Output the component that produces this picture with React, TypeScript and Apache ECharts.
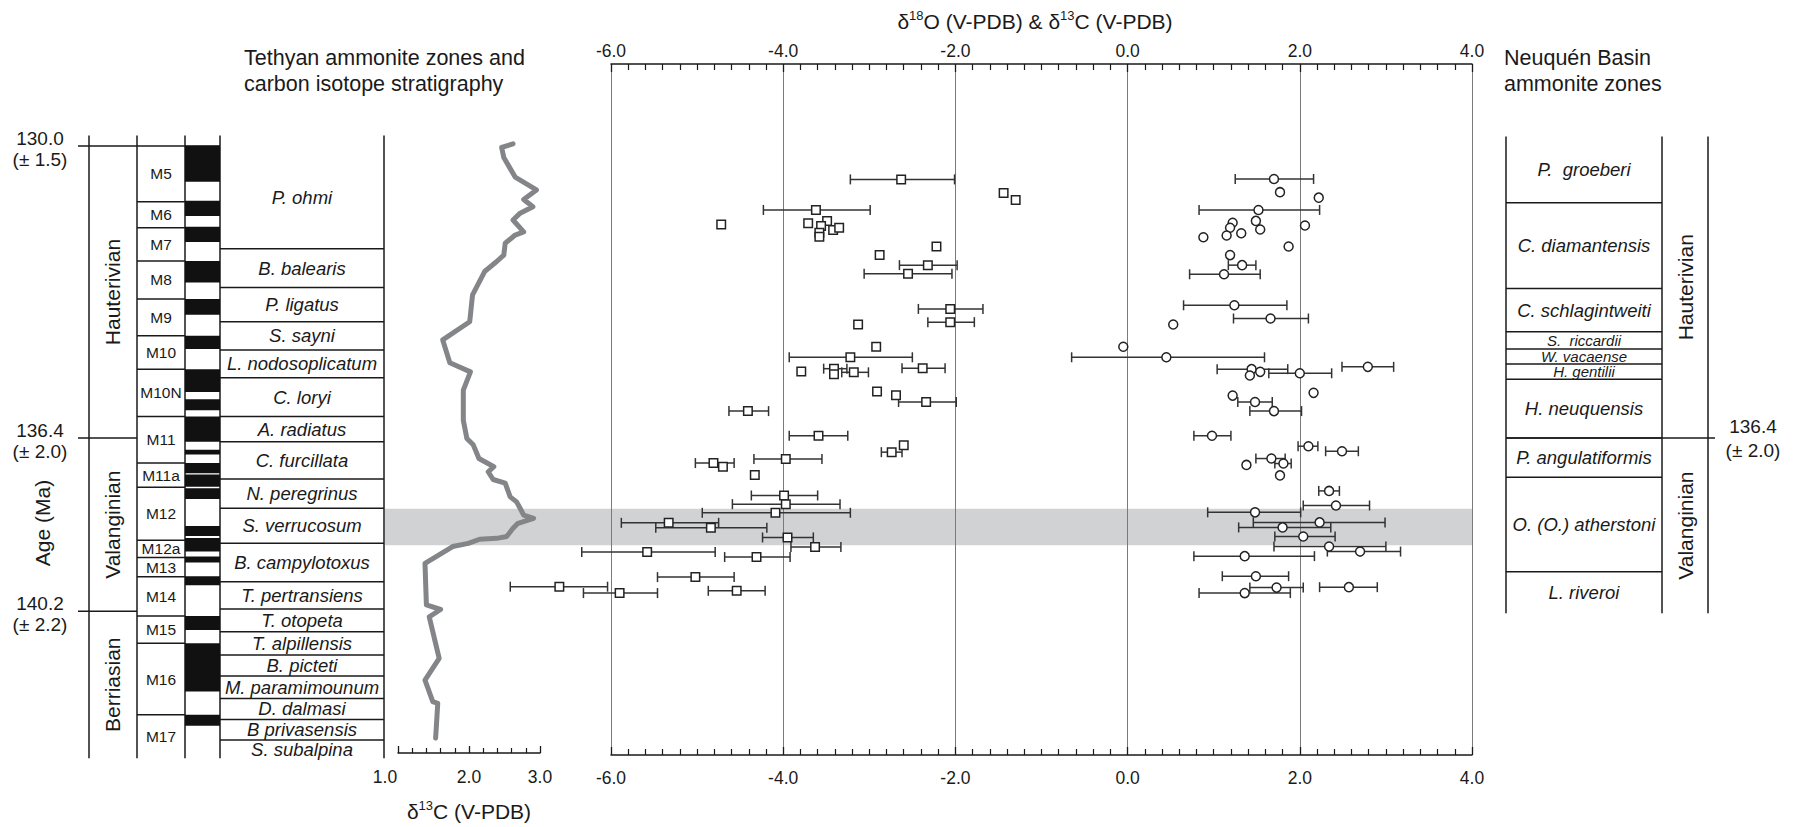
import React, { useEffect, useRef } from "react";
import * as echarts from "echarts";

const FONT = "'Liberation Sans', Arial, Helvetica, sans-serif";
const INK = "#1a1a1a";

// vertical scale: geological age (Ma), increasing downwards
const AGE_MIN = 128.2;
const AGE_MAX = 143.35;

// ---------- Tethyan (left) stratigraphy ----------
const leftColumnSpan = [129.77, 143.42];
const ageTicks = [130.0, 136.4, 140.2];
const ageTickErr = ["(± 1.5)", "(± 2.0)", "(± 2.2)"];
const tethyanStages: [string, number, number][] = [
  ["Hauterivian", 130.0, 136.4],
  ["Valanginian", 136.4, 140.2],
  ["Berriasian", 140.2, 143.42],
];
const chrons: [string, number, number][] = [
  ["M5", 130.0, 131.22], ["M6", 131.22, 131.79], ["M7", 131.79, 132.52], ["M8", 132.52, 133.35],
  ["M9", 133.35, 134.16], ["M10", 134.16, 134.89], ["M10N", 134.89, 135.93], ["M11", 135.93, 136.95],
  ["M11a", 136.95, 137.48], ["M12", 137.48, 138.64], ["M12a", 138.64, 139.02], ["M13", 139.02, 139.44],
  ["M14", 139.44, 140.30], ["M15", 140.30, 140.90], ["M16", 140.90, 142.47], ["M17", 142.47, 143.42],
];
const normalPolarity: [number, number][] = [
  [129.99, 130.78], [131.20, 131.53], [131.77, 132.10], [132.52, 132.99], [133.35, 133.70],
  [134.16, 134.45], [134.89, 135.39], [135.55, 135.79], [135.93, 136.48], [136.66, 136.76],
  [136.95, 137.17], [137.20, 137.47], [137.50, 137.74], [138.33, 138.55], [138.59, 138.89],
  [139.00, 139.13], [139.43, 139.63], [140.30, 140.61], [140.90, 141.96], [142.47, 142.71],
];
const tethyanZones: [string, number, number][] = [
  ["P. ohmi", 130.0, 132.25], ["B. balearis", 132.25, 133.10], ["P. ligatus", 133.10, 133.85],
  ["S. sayni", 133.85, 134.47], ["L. nodosoplicatum", 134.47, 135.08], ["C. loryi", 135.08, 135.93],
  ["A. radiatus", 135.93, 136.48], ["C. furcillata", 136.48, 137.30], ["N. peregrinus", 137.30, 137.94],
  ["S. verrucosum", 137.94, 138.71], ["B. campylotoxus", 138.71, 139.55], ["T. pertransiens", 139.55, 140.15],
  ["T. otopeta", 140.15, 140.65], ["T. alpillensis", 140.65, 141.16], ["B. picteti", 141.16, 141.62],
  ["M. paramimounum", 141.62, 142.11], ["D. dalmasi", 142.11, 142.57], ["B privasensis", 142.57, 143.02],
  ["S. subalpina", 143.02, 143.42],
];
const verrucosumBand = [137.95, 138.75];

// ---------- Tethyan carbon isotope curve ----------
const curveAge = [
  129.95, 130.03, 130.25, 130.68, 130.96, 131.17, 131.33, 131.47, 131.62, 131.88, 131.95, 132.13,
  132.39, 132.53, 132.75, 133.26, 133.85, 134.25, 134.75, 134.95, 135.35, 136.01, 136.41, 136.55,
  136.85, 137.03, 137.14, 137.31, 137.39, 137.69, 137.80, 137.94, 138.09, 138.16, 138.27, 138.38,
  138.56, 138.60, 138.62, 138.71, 138.78, 139.15, 140.06, 140.16, 140.32, 141.23, 141.71, 142.18,
  142.22, 142.98,
];
const curveD13C = [
  2.62, 2.46, 2.49, 2.65, 2.95, 2.77, 2.90, 2.72, 2.62, 2.77, 2.65, 2.51,
  2.49, 2.39, 2.22, 2.05, 2.01, 1.63, 1.73, 2.02, 1.92, 1.92, 1.97, 2.06,
  2.14, 2.35, 2.27, 2.34, 2.51, 2.58, 2.67, 2.72, 2.77, 2.91, 2.69, 2.62,
  2.53, 2.39, 2.15, 1.99, 1.77, 1.38, 1.40, 1.60, 1.44, 1.58, 1.38, 1.49,
  1.56, 1.53,
];

// ---------- Neuquén samples: [value, age, low, high] ----------
const oxygenPoints: (number | null)[][] = [
  [-2.63, 130.73, -3.22, -2.01], [-1.44, 131.03, null, null], [-1.30, 131.18, null, null],
  [-3.62, 131.40, -4.23, -2.99], [-4.72, 131.72, null, null], [-3.71, 131.69, null, null],
  [-3.49, 131.64, null, null], [-3.56, 131.75, null, null], [-3.42, 131.84, null, null],
  [-3.35, 131.79, null, null], [-3.58, 131.90, null, null], [-3.58, 131.99, null, null],
  [-2.22, 132.20, null, null], [-2.88, 132.39, null, null], [-2.32, 132.61, -2.65, -1.98],
  [-2.55, 132.80, -3.06, -2.04], [-2.06, 133.57, -2.43, -1.68], [-2.06, 133.86, -2.32, -1.78],
  [-3.13, 133.91, null, null], [-2.92, 134.40, null, null], [-3.22, 134.63, -3.93, -2.50],
  [-2.38, 134.87, -2.62, -2.12], [-3.41, 134.88, -3.53, -3.26], [-3.41, 135.00, null, null],
  [-3.18, 134.96, -3.32, -3.01], [-3.79, 134.94, null, null], [-2.91, 135.38, null, null],
  [-2.69, 135.46, null, null], [-2.34, 135.61, -2.66, -1.99], [-4.41, 135.81, -4.63, -4.17],
  [-3.59, 136.35, -3.93, -3.25], [-2.60, 136.56, null, null], [-2.74, 136.71, -2.86, -2.62],
  [-4.81, 136.95, -5.02, -4.57], [-4.70, 137.03, null, null], [-3.97, 136.86, -4.34, -3.55],
  [-4.33, 137.21, null, null], [-3.99, 137.66, -4.37, -3.60], [-3.97, 137.85, -4.59, -3.34],
  [-4.09, 138.04, -4.94, -3.22], [-5.33, 138.26, -5.88, -4.75], [-4.84, 138.37, -5.48, -4.19],
  [-3.95, 138.58, -4.24, -3.65], [-3.63, 138.79, -3.91, -3.33], [-5.58, 138.90, -6.34, -4.79],
  [-4.31, 139.01, -4.68, -3.92], [-5.02, 139.45, -5.46, -4.57], [-4.54, 139.75, -4.87, -4.21],
  [-5.90, 139.80, -6.32, -5.46], [-6.60, 139.66, -7.17, -6.04],
];
const carbonPoints: (number | null)[][] = [
  [1.70, 130.72, 1.25, 2.16], [1.77, 131.01, null, null], [2.22, 131.13, null, null],
  [1.52, 131.40, 0.83, 2.23], [1.22, 131.68, null, null], [1.49, 131.64, null, null],
  [2.06, 131.74, null, null], [1.19, 131.79, null, null], [1.54, 131.83, null, null],
  [1.32, 131.91, null, null], [1.15, 131.96, null, null], [0.88, 132.00, null, null],
  [1.87, 132.20, null, null], [1.19, 132.39, null, null], [1.33, 132.61, 1.17, 1.49],
  [1.12, 132.81, 0.72, 1.54], [1.24, 133.49, 0.65, 1.85], [1.66, 133.78, 1.23, 2.10],
  [0.53, 133.91, null, null], [-0.05, 134.40, null, null], [0.45, 134.63, -0.65, 1.59],
  [2.79, 134.84, 2.49, 3.09], [1.44, 134.89, 1.04, 1.86], [1.54, 134.95, null, null],
  [1.42, 135.03, null, null], [2.00, 134.98, 1.64, 2.37], [2.16, 135.41, null, null],
  [1.22, 135.47, null, null], [1.48, 135.61, 1.28, 1.68], [1.70, 135.81, 1.42, 2.02],
  [0.98, 136.35, 0.77, 1.20], [2.10, 136.58, 1.98, 2.21], [2.49, 136.69, 2.30, 2.68],
  [1.67, 136.85, 1.49, 1.83], [1.81, 136.96, 1.71, 1.90], [1.38, 136.99, null, null],
  [1.77, 137.22, null, null], [2.34, 137.56, 2.22, 2.46], [2.42, 137.88, 2.04, 2.81],
  [1.48, 138.03, 0.93, 2.01], [2.23, 138.25, 1.46, 2.99], [1.80, 138.36, 1.29, 2.36],
  [2.04, 138.56, 1.71, 2.41], [2.34, 138.78, 1.70, 3.00], [2.70, 138.89, 2.32, 3.17],
  [1.36, 138.99, 0.77, 2.17], [1.49, 139.43, 1.10, 1.87], [1.73, 139.68, 1.42, 2.04],
  [2.57, 139.67, 2.23, 2.90], [1.36, 139.80, 0.83, 1.89],
];

// ---------- Neuquén (right) stratigraphy ----------
const rightColumnSpan = [129.79, 140.24];
const neuquenZones: [string, number, number][] = [
  ["P.  groeberi", 129.79, 131.24], ["C. diamantensis", 131.24, 133.12], ["C. schlagintweiti", 133.12, 134.07],
  ["S.  riccardii", 134.07, 134.45], ["W. vacaense", 134.45, 134.78], ["H. gentilii", 134.78, 135.11],
  ["H. neuquensis", 135.11, 136.4], ["P. angulatiformis", 136.4, 137.26], ["O. (O.) atherstoni", 137.26, 139.33],
  ["L. riveroi", 139.33, 140.24],
];
const neuquenStages: [string, number, number][] = [
  ["Hauterivian", 129.79, 136.4],
  ["Valanginian", 136.4, 140.24],
];
const rightAgeTicks = [136.4];
const rightAgeErr = ["(± 2.0)"];

// ---------- drawing helpers ----------
const seg = (x1: number, y1: number, x2: number, y2: number, w = 1.5, c = INK) => ({
  type: "line",
  shape: { x1, y1, x2, y2 },
  style: { stroke: c, lineWidth: w },
});
const txt = (text: string, x: number, y: number, size: number, italic = false, rotation = 0, align = "center") => ({
  type: "text",
  x,
  y,
  rotation,
  style: {
    text,
    fill: INK,
    fontSize: size,
    fontFamily: FONT,
    fontStyle: italic ? "italic" : "normal",
    align,
    verticalAlign: "middle",
    textAlign: align,
    textVerticalAlign: "middle",
  },
});

function buildOption(): any {
  const yAt = (api: any, age: number) => api.coord([0, age])[1];

  const leftAxes = { xAxisIndex: 0, yAxisIndex: 0 };
  const rightAxes = { xAxisIndex: 4, yAxisIndex: 3 };
  const mainAxes = { xAxisIndex: 2, yAxisIndex: 2 };

  const errBarSeries = (pts: (number | null)[][]) => ({
    type: "custom",
    ...mainAxes,
    clip: false,
    silent: true,
    z: 3,
    data: pts.filter((p) => p[2] !== null),
    renderItem: (_p: any, api: any) => {
      const age = api.value(1);
      const y = api.coord([api.value(0), age])[1];
      const xl = api.coord([api.value(2), age])[0];
      const xh = api.coord([api.value(3), age])[0];
      const c = "#333333";
      return {
        type: "group",
        children: [seg(xl, y, xh, y, 1.5, c), seg(xl, y - 5, xl, y + 5, 1.5, c), seg(xh, y - 5, xh, y + 5, 1.5, c)],
      };
    },
  });

  const tickLabel = { color: INK, fontSize: 17.5, fontFamily: FONT };
  const supRich = {
    n: { fontSize: 21, fontFamily: FONT, color: INK, lineHeight: 24 },
    s: { fontSize: 13, fontFamily: FONT, color: INK, verticalAlign: "top", lineHeight: 14 },
  };

  return {
    animation: false,
    backgroundColor: "#ffffff",
    textStyle: { fontFamily: FONT },
    grid: [
      { left: 0, top: 64, width: 400, height: 691 },
      { left: 398, top: 64, width: 142, height: 691 },
      { left: 611, top: 64, width: 861, height: 691 },
      { left: 1490, top: 64, width: 303, height: 691 },
    ],
    xAxis: [
      { type: "value", gridIndex: 0, min: 0, max: 400, show: false },
      {
        type: "value",
        gridIndex: 1,
        min: 1,
        max: 3,
        interval: 1,
        position: "bottom",
        offset: -2,
        axisLine: { lineStyle: { color: INK, width: 1.5 } },
        axisTick: { inside: true, length: 7, lineStyle: { color: INK, width: 1.3 } },
        minorTick: { show: true, splitNumber: 5, length: 5, lineStyle: { color: INK, width: 1.2 } },
        splitLine: { show: false },
        axisLabel: {
          ...tickLabel,
          margin: 15,
          formatter: (v: number) => (v === 1 ? "{first|1.0}" : v.toFixed(1)),
          rich: { first: { fontSize: 17.5, fontFamily: FONT, color: INK, padding: [0, 26, 0, 0] } },
        },
      },
      {
        type: "value",
        gridIndex: 2,
        min: -6,
        max: 4,
        interval: 2,
        position: "top",
        axisLine: { lineStyle: { color: INK, width: 1.5 } },
        axisTick: { inside: true, length: 8, lineStyle: { color: INK, width: 1.3 } },
        minorTick: { show: true, splitNumber: 10, length: 6, lineStyle: { color: INK, width: 1.2 } },
        splitLine: { show: true, lineStyle: { color: "#7a7a7a", width: 1 } },
        axisLabel: { ...tickLabel, margin: 4, formatter: (v: number) => v.toFixed(1) },
      },
      {
        type: "value",
        gridIndex: 2,
        min: -6,
        max: 4,
        interval: 2,
        position: "bottom",
        axisLine: { lineStyle: { color: INK, width: 1.5 } },
        axisTick: { inside: true, length: 8, lineStyle: { color: INK, width: 1.3 } },
        minorTick: { show: true, splitNumber: 10, length: 6, lineStyle: { color: INK, width: 1.2 } },
        splitLine: { show: false },
        axisLabel: { ...tickLabel, margin: 14, formatter: (v: number) => v.toFixed(1) },
      },
      { type: "value", gridIndex: 3, min: 0, max: 303, show: false },
    ],
    yAxis: [0, 1, 2, 3].map((i) => ({
      type: "value",
      gridIndex: i,
      min: AGE_MIN,
      max: AGE_MAX,
      inverse: true,
      show: false,
    })),
    graphic: [
      {
        type: "text",
        x: 1035,
        y: 21,
        style: {
          text: "{n|δ}{s|18}{n|O (V-PDB) & δ}{s|13}{n|C (V-PDB)}",
          align: "center",
          verticalAlign: "middle",
          textAlign: "center",
          textVerticalAlign: "middle",
          fill: INK,
          rich: supRich,
        },
      },
      {
        type: "text",
        x: 469,
        y: 811,
        style: {
          text: "{n|δ}{s|13}{n|C (V-PDB)}",
          align: "center",
          verticalAlign: "middle",
          textAlign: "center",
          textVerticalAlign: "middle",
          fill: INK,
          rich: supRich,
        },
      },
      txt("Tethyan ammonite zones and", 244, 58, 21.5, false, 0, "left"),
      txt("carbon isotope stratigraphy", 244, 84, 21.5, false, 0, "left"),
      txt("Neuquén Basin", 1504, 58, 21.5, false, 0, "left"),
      txt("ammonite zones", 1504, 84, 21.5, false, 0, "left"),
      txt("Age (Ma)", 42, 523, 21, false, Math.PI / 2),
    ],
    series: [
      // grey band marking the S. verrucosum zone
      {
        type: "custom",
        ...mainAxes,
        clip: false,
        silent: true,
        z: -1,
        data: [verrucosumBand],
        renderItem: (_p: any, api: any) => {
          const y0 = yAt(api, api.value(0));
          const y1 = yAt(api, api.value(1));
          const xr = api.coord([4, api.value(0)])[0];
          return { type: "rect", shape: { x: 385, y: y0, width: xr - 385, height: y1 - y0 }, style: { fill: "#d1d2d4" } };
        },
      },
      // left column frame
      {
        type: "custom",
        ...leftAxes,
        clip: false,
        silent: true,
        data: [leftColumnSpan],
        renderItem: (_p: any, api: any) => {
          const y0 = yAt(api, api.value(0));
          const y1 = yAt(api, api.value(1));
          return { type: "group", children: [89, 137, 185, 220, 384].map((x) => seg(x, y0, x, y1)) };
        },
      },
      // age ticks (left)
      {
        type: "custom",
        ...leftAxes,
        clip: false,
        silent: true,
        data: ageTicks.map((a) => [a]),
        renderItem: (p: any, api: any) => {
          const a = api.value(0);
          const y = yAt(api, a);
          return {
            type: "group",
            children: [
              seg(78, y, p.dataIndex === 0 ? 220 : 137, y),
              txt(a.toFixed(1), 40, y - 8, 19),
              txt(ageTickErr[p.dataIndex], 40, y + 13, 19),
            ],
          };
        },
      },
      // stages (left)
      {
        type: "custom",
        ...leftAxes,
        clip: false,
        silent: true,
        data: tethyanStages.map((s) => [s[1], s[2]]),
        renderItem: (p: any, api: any) => {
          const y0 = yAt(api, api.value(0));
          const y1 = yAt(api, api.value(1));
          return txt(tethyanStages[p.dataIndex][0], 112, (y0 + y1) / 2, 21, false, Math.PI / 2);
        },
      },
      // magnetic polarity (normal = black)
      {
        type: "custom",
        ...leftAxes,
        clip: false,
        silent: true,
        data: normalPolarity,
        renderItem: (_p: any, api: any) => {
          const y0 = yAt(api, api.value(0));
          const y1 = yAt(api, api.value(1));
          return { type: "rect", shape: { x: 185, y: y0, width: 35, height: y1 - y0 }, style: { fill: "#111111" } };
        },
      },
      // chrons
      {
        type: "custom",
        ...leftAxes,
        clip: false,
        silent: true,
        data: chrons.map((c) => [c[1], c[2]]),
        renderItem: (p: any, api: any) => {
          const y0 = yAt(api, api.value(0));
          const y1 = yAt(api, api.value(1));
          const children: any[] = [txt(chrons[p.dataIndex][0], 161, (y0 + y1) / 2, 15.5)];
          if (p.dataIndex > 0) children.push(seg(137, y0, 185, y0));
          return { type: "group", children };
        },
      },
      // Tethyan ammonite zones
      {
        type: "custom",
        ...leftAxes,
        clip: false,
        silent: true,
        data: tethyanZones.map((z) => [z[1], z[2]]),
        renderItem: (p: any, api: any) => {
          const y0 = yAt(api, api.value(0));
          const y1 = yAt(api, api.value(1));
          const children: any[] = [txt(tethyanZones[p.dataIndex][0], 302, (y0 + y1) / 2, 18.5, true)];
          if (p.dataIndex > 0) children.push(seg(220, y0, 384, y0));
          return { type: "group", children };
        },
      },
      // carbon isotope curve
      {
        type: "line",
        xAxisIndex: 1,
        yAxisIndex: 1,
        z: 4,
        silent: true,
        showSymbol: false,
        data: curveD13C.map((v, i) => [v, curveAge[i]]),
        lineStyle: { color: "#848588", width: 5, join: "round", cap: "round" },
      },
      // error bars + samples
      errBarSeries(oxygenPoints),
      errBarSeries(carbonPoints),
      {
        type: "scatter",
        ...mainAxes,
        clip: false,
        silent: true,
        z: 5,
        symbol: "rect",
        symbolSize: 8.5,
        itemStyle: { color: "#ffffff", borderColor: "#222222", borderWidth: 1.5, opacity: 1 },
        data: oxygenPoints.map((p) => [p[0], p[1]]),
      },
      {
        type: "scatter",
        ...mainAxes,
        clip: false,
        silent: true,
        z: 5,
        symbol: "circle",
        symbolSize: 9,
        itemStyle: { color: "#ffffff", borderColor: "#222222", borderWidth: 1.5, opacity: 1 },
        data: carbonPoints.map((p) => [p[0], p[1]]),
      },
      // right column frame
      {
        type: "custom",
        ...rightAxes,
        clip: false,
        silent: true,
        data: [rightColumnSpan],
        renderItem: (_p: any, api: any) => {
          const y0 = yAt(api, api.value(0));
          const y1 = yAt(api, api.value(1));
          return { type: "group", children: [1506, 1662, 1708].map((x) => seg(x, y0, x, y1)) };
        },
      },
      // Neuquén zones
      {
        type: "custom",
        ...rightAxes,
        clip: false,
        silent: true,
        data: neuquenZones.map((z) => [z[1], z[2]]),
        renderItem: (p: any, api: any) => {
          const y0 = yAt(api, api.value(0));
          const y1 = yAt(api, api.value(1));
          const size = y1 - y0 < 22 ? 15 : 18.5;
          const children: any[] = [txt(neuquenZones[p.dataIndex][0], 1584, (y0 + y1) / 2, size, true)];
          if (p.dataIndex > 0) children.push(seg(1506, y0, 1662, y0));
          return { type: "group", children };
        },
      },
      // Neuquén stages
      {
        type: "custom",
        ...rightAxes,
        clip: false,
        silent: true,
        data: neuquenStages.map((s) => [s[1], s[2]]),
        renderItem: (p: any, api: any) => {
          const y0 = yAt(api, api.value(0));
          const y1 = yAt(api, api.value(1));
          return txt(neuquenStages[p.dataIndex][0], 1685, (y0 + y1) / 2, 21, false, Math.PI / 2);
        },
      },
      // right age tick
      {
        type: "custom",
        ...rightAxes,
        clip: false,
        silent: true,
        data: rightAgeTicks.map((a) => [a]),
        renderItem: (p: any, api: any) => {
          const a = api.value(0);
          const y = yAt(api, a);
          return {
            type: "group",
            children: [
              seg(1506, y, 1715, y),
              txt(a.toFixed(1), 1753, y - 12, 19),
              txt(rightAgeErr[p.dataIndex], 1753, y + 12, 19),
            ],
          };
        },
      },
    ],
  };
}

export default function App() {
  const ref = useRef<HTMLDivElement>(null);
  useEffect(() => {
    const chart = echarts.init(ref.current as HTMLDivElement, null, { renderer: "svg" });
    chart.setOption(buildOption());
    return () => chart.dispose();
  }, []);
  return (
    <div
      ref={ref}
      style={{ position: "absolute", left: 0, top: 0, width: 1793, height: 827, background: "#ffffff" }}
    />
  );
}
